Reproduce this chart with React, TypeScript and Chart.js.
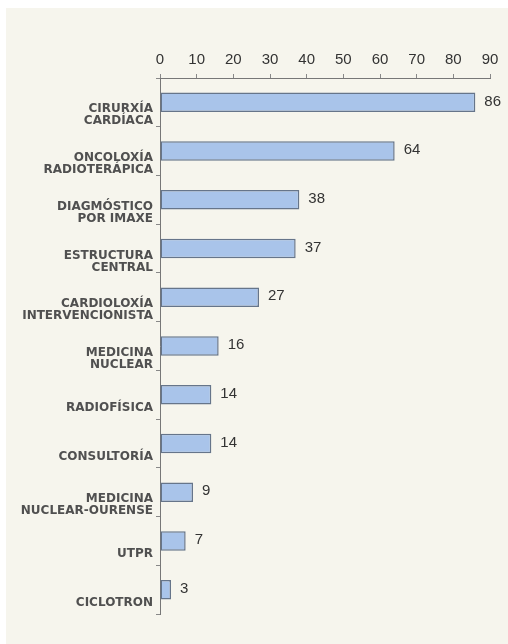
import React, { useEffect, useRef } from "react";
import { Chart, registerables } from "chart.js";

Chart.register(...registerables);

const categories: string[][] = [
  ["CIRURXÍA", "CARDÍACA"],
  ["ONCOLOXÍA", "RADIOTERÁPICA"],
  ["DIAGMÓSTICO", "POR IMAXE"],
  ["ESTRUCTURA", "CENTRAL"],
  ["CARDIOLOXÍA", "INTERVENCIONISTA"],
  ["MEDICINA", "NUCLEAR"],
  ["RADIOFÍSICA"],
  ["CONSULTORÍA"],
  ["MEDICINA", "NUCLEAR-OURENSE"],
  ["UTPR"],
  ["CICLOTRON"],
];

const values: number[] = [86, 64, 38, 37, 27, 16, 14, 14, 9, 7, 3];

const xTicks = { min: 0, max: 90, step: 10 };

const bgPlugin = {
  id: "bg",
  beforeDraw(chart: any) {
    const { ctx, width, height } = chart;
    ctx.save();
    ctx.fillStyle = "#f6f5ed";
    ctx.fillRect(0, 0, width, height);
    ctx.restore();
  },
};

const valueLabelPlugin = {
  id: "valueLabels",
  afterDatasetsDraw(chart: any) {
    const { ctx } = chart;
    const meta = chart.getDatasetMeta(0);
    ctx.save();
    ctx.font = '15px "Liberation Sans", Arial, sans-serif';
    ctx.fillStyle = "#333333";
    ctx.textAlign = "left";
    ctx.textBaseline = "middle";
    meta.data.forEach((bar: any, i: number) => {
      ctx.fillText(String(values[i]), bar.x + 9, bar.y - 1);
    });
    ctx.restore();
  },
};

export default function App() {
  const ref = useRef<HTMLCanvasElement | null>(null);

  useEffect(() => {
    if (!ref.current) return;
    const chart = new Chart(ref.current, {
      type: "bar",
      data: {
        labels: categories,
        datasets: [
          {
            data: values,
            backgroundColor: "#a9c4ea",
            borderColor: "#66758a",
            borderWidth: 1.5,
            borderSkipped: false,
            categoryPercentage: 1,
            barPercentage: 0.4,
          },
        ],
      },
      options: {
        indexAxis: "y",
        animation: false,
        responsive: true,
        maintainAspectRatio: false,
        layout: { padding: { top: 0, right: 18, bottom: 30, left: 0 } },
        plugins: {
          legend: { display: false },
          tooltip: { enabled: false },
        },
        scales: {
          x: {
            position: "top",
            min: xTicks.min,
            max: xTicks.max,
            ticks: {
              stepSize: xTicks.step,
              font: { family: '"Liberation Sans", Arial, sans-serif', size: 15 },
              color: "#333333",
              padding: 5,
            },
            grid: {
              display: true,
              drawOnChartArea: false,
              tickLength: 4,
              color: "#888888",
            },
            border: { color: "#777777", width: 1 },
            afterFit: (s: any) => {
              s.height = 70;
            },
          },
          y: {
            ticks: {
              font: { family: '"DejaVu Sans", sans-serif', weight: "bold", size: 12, lineHeight: 1.0 },
              color: "#505050",
              padding: 3,
              labelOffset: 13,
              autoSkip: false,
            },
            grid: {
              offset: true,
              drawOnChartArea: false,
              tickLength: 4,
              color: "#888888",
            },
            border: { color: "#777777", width: 1 },
            afterFit: (s: any) => {
              s.width = 154;
            },
          },
        },
      },
      plugins: [bgPlugin, valueLabelPlugin],
    });
    return () => chart.destroy();
  }, []);

  return (
    <div style={{ position: "absolute", left: 6, top: 8, width: 502, height: 636 }}>
      <canvas ref={ref} />
    </div>
  );
}
